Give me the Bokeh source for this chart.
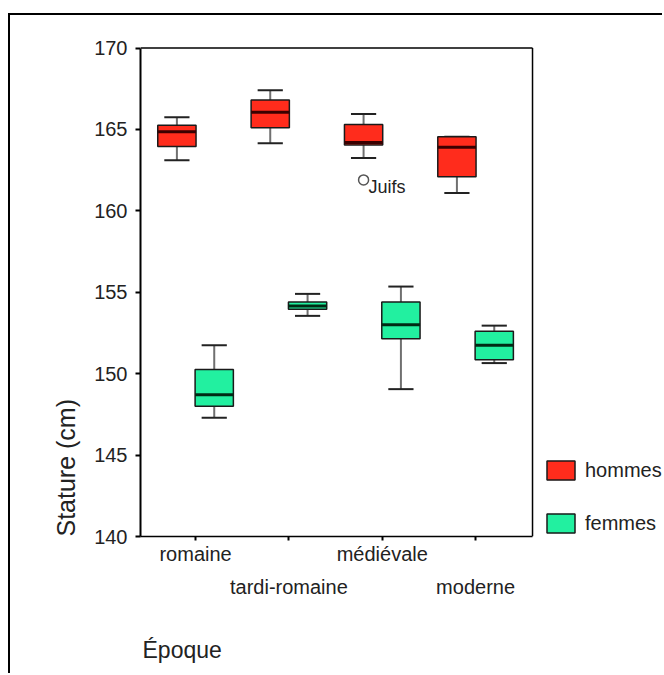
from bokeh.plotting import figure
from bokeh.models import (ColumnDataSource, Range1d, FixedTicker, LinearAxis, Title,
                          Legend, LegendItem)
from bokeh.core.properties import value
from bokeh.embed import file_html
from bokeh.resources import INLINE

# ---- data ----
periods = ["romaine", "tardi-romaine", "médiévale", "moderne"]
period_pos = [1, 2, 3, 4]

h_low = [163.1, 164.15, 163.25, 161.1]
h_q1 = [163.95, 165.1, 164.05, 162.1]
h_med = [164.85, 166.05, 164.2, 163.9]
h_q3 = [165.25, 166.8, 165.3, 164.55]
h_high = [165.75, 167.4, 165.95, 164.55]

f_low = [147.3, 153.55, 149.05, 150.65]
f_q1 = [148.0, 153.95, 152.15, 150.85]
f_med = [148.7, 154.15, 153.0, 151.75]
f_q3 = [150.25, 154.4, 154.4, 152.6]
f_high = [151.75, 154.9, 155.35, 152.95]

outlier_pos = [3]
outlier_val = [161.9]
outlier_lab = ["Juifs"]

y_ticks = [140, 145, 150, 155, 160, 165, 170]

# ---- styling ----
FONT = "Liberation Sans"
RED = "#FF2C1C"
GREEN = "#22F0A0"
OFF = 0.2
BW = 0.41
CAP = 0.27
X0, X1 = 0.41, 4.61            # plot box in x units
XEND = 6.024
Y0, Y1 = y_ticks[0], y_ticks[-1]

p = figure(width=654, height=660, output_backend="svg", toolbar_location=None,
           x_range=Range1d(X0, XEND), y_range=Range1d(Y0, 170.4),
           min_border_left=130, min_border_right=0, min_border_top=26,
           min_border_bottom=139, x_axis_location=None, y_axis_location=None)
p.styles = {"margin-left": "8px", "margin-top": "13px",
            "border-left": "2px solid black", "border-top": "2px solid black"}
p.xgrid.visible = False
p.ygrid.visible = False
p.outline_line_color = None
p.background_fill_color = "white"
p.border_fill_color = "white"

# plot box (top and right sides)
p.segment(x0=[X0, X1], y0=[Y1, Y0], x1=[X1, X1], y1=[Y1, Y1],
          line_color="black", line_width=1.5)


def draw(low, q1, med, q3, high, shift, color, medcol):
    xs = [x + shift for x in period_pos]
    src = ColumnDataSource(dict(x=xs, l=[x - BW / 2 for x in xs], r=[x + BW / 2 for x in xs],
                                cl=[x - CAP / 2 for x in xs], cr=[x + CAP / 2 for x in xs],
                                low=low, q1=q1, med=med, q3=q3, high=high))
    p.segment(x0="x", y0="low", x1="x", y1="q1", source=src, line_color="#707070", line_width=2)
    p.segment(x0="x", y0="q3", x1="x", y1="high", source=src, line_color="#707070", line_width=2)
    p.segment(x0="cl", y0="low", x1="cr", y1="low", source=src, line_color="#222222", line_width=2)
    p.segment(x0="cl", y0="high", x1="cr", y1="high", source=src, line_color="#222222", line_width=2)
    r = p.quad(left="l", right="r", bottom="q1", top="q3", source=src,
               fill_color=color, line_color="#1a1a1a", line_width=1.5)
    p.segment(x0="l", y0="med", x1="r", y1="med", source=src, line_color=medcol, line_width=3)
    return r


rh = draw(h_low, h_q1, h_med, h_q3, h_high, -OFF, RED, "#3a0000")
rf = draw(f_low, f_q1, f_med, f_q3, f_high, OFF, GREEN, "#002a14")

ox = [x - OFF for x in outlier_pos]
p.scatter(x=ox, y=outlier_val, marker="circle", size=10, fill_color=None,
          line_color="#555555", line_width=1.5)
p.text(x=ox, y=outlier_val, text=outlier_lab, x_offset=5, y_offset=7,
       text_baseline="middle", text_align="left", text_font=value(FONT),
       text_font_size="18px", text_color="#222222")

# y axis
yax = LinearAxis(ticker=FixedTicker(ticks=y_ticks), bounds=(Y0, Y1))
yax.axis_line_width = 2
yax.axis_line_color = "black"
yax.major_tick_out = 5
yax.major_tick_in = 0
yax.major_tick_line_width = 2
yax.minor_tick_line_color = None
yax.major_label_standoff = 8
yax.major_label_text_font = FONT
yax.major_label_text_font_size = "20px"
yax.major_label_text_color = "#222222"
p.add_layout(yax, "left")

# x axis, first row of labels
xax1 = LinearAxis(ticker=FixedTicker(ticks=period_pos), bounds=(X0, X1))
xax1.major_label_overrides = {1: periods[0], 2: " ", 3: periods[2], 4: " "}
xax1.axis_line_color = "black"
xax1.axis_line_width = 1.5
xax1.major_tick_out = 4
xax1.major_tick_in = 0
xax1.major_tick_line_width = 2
xax1.minor_tick_line_color = None
xax1.major_label_standoff = 2
xax1.major_label_text_font = FONT
xax1.major_label_text_font_size = "20px"
xax1.major_label_text_color = "#222222"
p.add_layout(xax1, "below")

# x axis, second row of labels
xax2 = LinearAxis(ticker=FixedTicker(ticks=period_pos))
xax2.major_label_overrides = {1: " ", 2: periods[1], 3: " ", 4: periods[3]}
xax2.axis_line_color = None
xax2.major_tick_line_color = None
xax2.major_tick_out = 0
xax2.major_tick_in = 0
xax2.minor_tick_line_color = None
xax2.major_label_standoff = 8
xax2.major_label_text_font = FONT
xax2.major_label_text_font_size = "20px"
xax2.major_label_text_color = "#222222"
p.add_layout(xax2, "below")

# invisible spacer band before the axis title
spacer = LinearAxis(ticker=FixedTicker(ticks=[6.0]))
spacer.major_label_overrides = {6.0: " "}
spacer.axis_line_alpha = 0
spacer.major_tick_line_alpha = 0
spacer.minor_tick_line_alpha = 0
spacer.major_tick_out = 30
spacer.major_tick_in = 0
spacer.major_label_standoff = 0
spacer.major_label_text_font_size = "1px"
p.add_layout(spacer, "below")

p.add_layout(Title(text="Époque", align="left", offset=2, standoff=0,
                   text_font=FONT, text_font_size="23px", text_font_style="normal",
                   text_color="#222222"), "below")
p.add_layout(Title(text="Stature (cm)", align="left", standoff=23,
                   text_font=FONT, text_font_size="25px", text_font_style="normal",
                   text_color="#222222"), "left")

legend = Legend(items=[LegendItem(label="hommes", renderers=[rh]),
                       LegendItem(label="femmes", renderers=[rf])],
                location=(403, 1), glyph_width=35, glyph_height=24, spacing=29,
                label_standoff=7, padding=0, margin=0,
                label_text_font=FONT, label_text_font_size="20px",
                label_text_color="#222222",
                border_line_alpha=0, background_fill_alpha=0)
p.add_layout(legend, "center")

open("out.html", "w").write(file_html(p, INLINE))
